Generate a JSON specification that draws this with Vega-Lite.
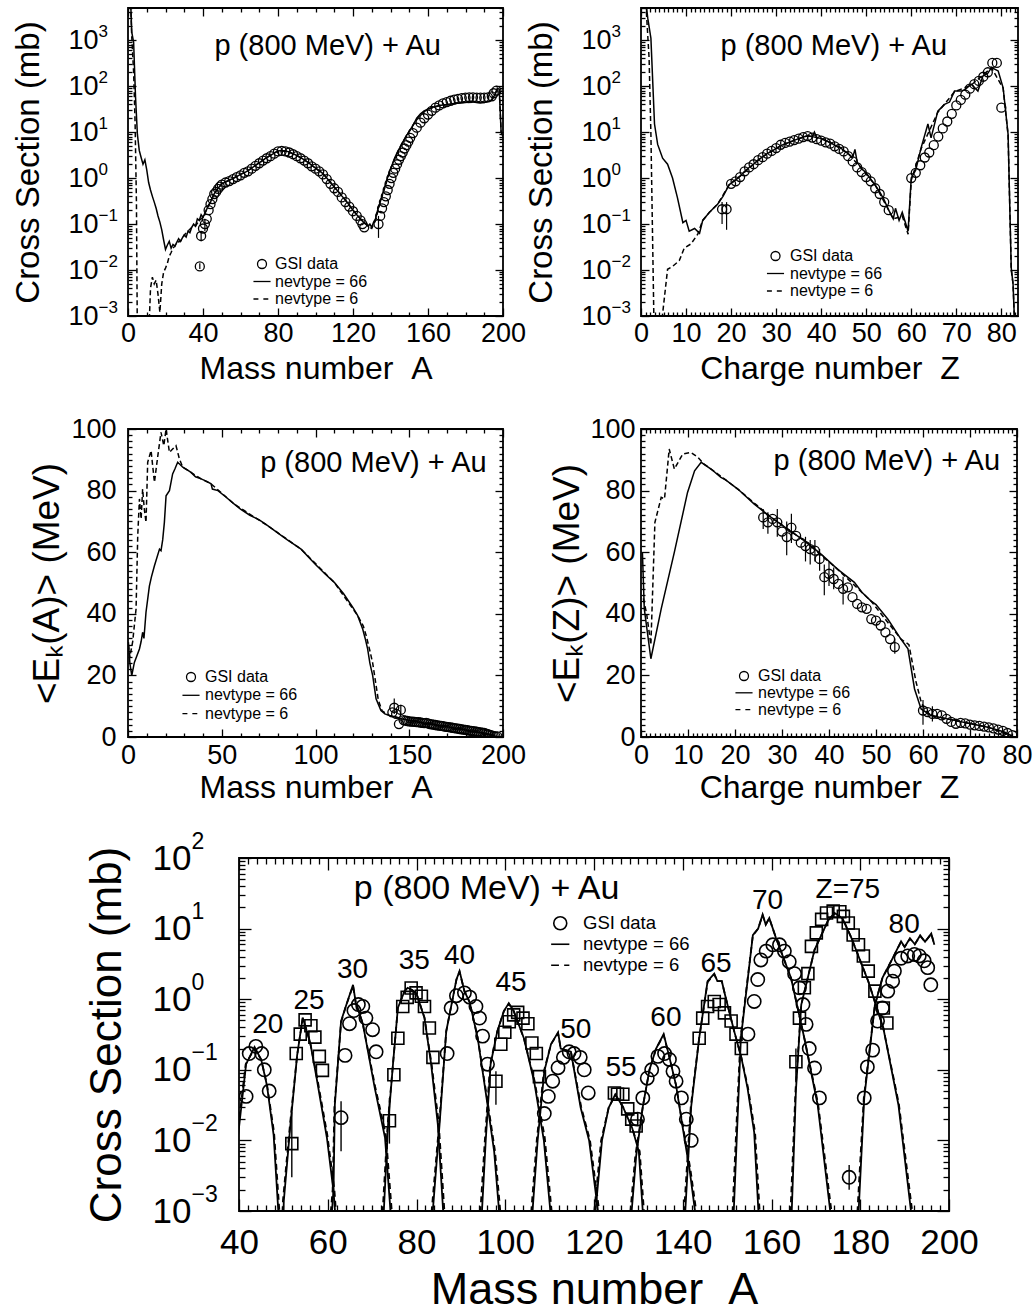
{
"$schema":"https://vega.github.io/schema/vega-lite/v6.json",
"padding":{"left":12,"top":6,"right":4,"bottom":0},
"config":{"view":{"stroke":"black","strokeWidth":1.8},"font":"Liberation Sans",
"axis":{"labelFont":"Liberation Sans","titleFont":"Liberation Sans","labelColor":"black","titleColor":"black","titleFontWeight":"normal","tickColor":"black","tickWidth":1.3,"grid":false,"domain":false,"labelFlush":false,"labelOverlap":false},
"legend":{"labelFont":"Liberation Sans","labelColor":"black"}},
"datasets":{
"pA":[
{"s":"66","x":1,"y":20000},{"s":"66","x":2,"y":1500},{"s":"66","x":3,"y":900},{"s":"66","x":4,"y":60},{"s":"66","x":5,"y":9},{"s":"66","x":6,"y":4},{"s":"66","x":7,"y":2.8},{"s":"66","x":8,"y":2},{"s":"66","x":9,"y":2.5},{"s":"66","x":10,"y":1.5},{"s":"66","x":11,"y":0.8},{"s":"66","x":12,"y":0.55},{"s":"66","x":13,"y":0.4},{"s":"66","x":14,"y":0.3},{"s":"66","x":15,"y":0.22},{"s":"66","x":16,"y":0.15},{"s":"66","x":17,"y":0.11},{"s":"66","x":18,"y":0.075},{"s":"66","x":19,"y":0.045},{"s":"66","x":20,"y":0.028},{"s":"66","x":21,"y":0.035},{"s":"66","x":22,"y":0.042},{"s":"66","x":23,"y":0.03},{"s":"66","x":24,"y":0.036},{"s":"66","x":25,"y":0.033},{"s":"66","x":26,"y":0.04},{"s":"66","x":27,"y":0.048},{"s":"66","x":28,"y":0.042},{"s":"66","x":29,"y":0.05},{"s":"66","x":30,"y":0.058},{"s":"66","x":31,"y":0.052},{"s":"66","x":32,"y":0.07},{"s":"66","x":33,"y":0.065},{"s":"66","x":34,"y":0.085},{"s":"66","x":35,"y":0.1},{"s":"66","x":36,"y":0.09},{"s":"66","x":37,"y":0.13},{"s":"66","x":38,"y":0.12},{"s":"66","x":39,"y":0.16},{"s":"66","x":40,"y":0.14},{"s":"66","x":41,"y":0.17},{"s":"66","x":42,"y":0.21},{"s":"66","x":43,"y":0.26},{"s":"66","x":44,"y":0.3},{"s":"66","x":45,"y":0.38},{"s":"66","x":46,"y":0.46},{"s":"66","x":47,"y":0.52},{"s":"66","x":48,"y":0.6},{"s":"66","x":49,"y":0.66},{"s":"66","x":50,"y":0.75},{"s":"66","x":52,"y":0.82},{"s":"66","x":54,"y":0.9},{"s":"66","x":56,"y":0.98},{"s":"66","x":58,"y":1.08},{"s":"66","x":60,"y":1.2},{"s":"66","x":62,"y":1.3},{"s":"66","x":64,"y":1.45},{"s":"66","x":66,"y":1.65},{"s":"66","x":68,"y":1.9},{"s":"66","x":70,"y":2.15},{"s":"66","x":72,"y":2.45},{"s":"66","x":74,"y":2.8},{"s":"66","x":76,"y":3.1},{"s":"66","x":78,"y":3.5},{"s":"66","x":80,"y":3.9},{"s":"66","x":82,"y":4},{"s":"66","x":84,"y":3.9},{"s":"66","x":86,"y":3.7},{"s":"66","x":88,"y":3.4},{"s":"66","x":90,"y":3.1},{"s":"66","x":92,"y":2.8},{"s":"66","x":94,"y":2.5},{"s":"66","x":96,"y":2.2},{"s":"66","x":98,"y":1.9},{"s":"66","x":100,"y":1.65},{"s":"66","x":102,"y":1.45},{"s":"66","x":104,"y":1.25},{"s":"66","x":106,"y":1},{"s":"66","x":108,"y":0.8},{"s":"66","x":110,"y":0.64},{"s":"66","x":112,"y":0.52},{"s":"66","x":114,"y":0.41},{"s":"66","x":116,"y":0.33},{"s":"66","x":118,"y":0.26},{"s":"66","x":120,"y":0.2},{"s":"66","x":122,"y":0.16},{"s":"66","x":124,"y":0.13},{"s":"66","x":126,"y":0.105},{"s":"66","x":127,"y":0.1},{"s":"66","x":128,"y":0.09},{"s":"66","x":129,"y":0.1},{"s":"66","x":130,"y":0.085},{"s":"66","x":131,"y":0.11},{"s":"66","x":132,"y":0.13},{"s":"66","x":133,"y":0.19},{"s":"66","x":134,"y":0.26},{"s":"66","x":135,"y":0.35},{"s":"66","x":136,"y":0.48},{"s":"66","x":137,"y":0.65},{"s":"66","x":138,"y":0.9},{"s":"66","x":139,"y":1.2},{"s":"66","x":140,"y":1.6},{"s":"66","x":141,"y":2},{"s":"66","x":142,"y":2.6},{"s":"66","x":143,"y":3.2},{"s":"66","x":144,"y":3.9},{"s":"66","x":145,"y":4.6},{"s":"66","x":146,"y":5.6},{"s":"66","x":147,"y":6.5},{"s":"66","x":148,"y":7.8},{"s":"66","x":149,"y":9},{"s":"66","x":150,"y":10.5},{"s":"66","x":152,"y":14},{"s":"66","x":154,"y":20},{"s":"66","x":156,"y":25},{"s":"66","x":158,"y":29},{"s":"66","x":160,"y":32},{"s":"66","x":162,"y":34},{"s":"66","x":164,"y":36},{"s":"66","x":166,"y":38},{"s":"66","x":168,"y":39},{"s":"66","x":170,"y":40},{"s":"66","x":172,"y":41},{"s":"66","x":174,"y":42},{"s":"66","x":176,"y":43},{"s":"66","x":178,"y":44},{"s":"66","x":180,"y":44},{"s":"66","x":182,"y":45},{"s":"66","x":184,"y":45},{"s":"66","x":186,"y":44},{"s":"66","x":188,"y":43},{"s":"66","x":190,"y":44},{"s":"66","x":192,"y":46},{"s":"66","x":194,"y":50},{"s":"66","x":195,"y":58},{"s":"66","x":196,"y":70},{"s":"66","x":197,"y":90},{"s":"66","x":198,"y":85},{"s":"66","x":199,"y":10},{"s":"66","x":200,"y":8},
{"s":"6","x":1,"y":20000},{"s":"6","x":2,"y":1200},{"s":"6","x":3,"y":200},{"s":"6","x":3.8,"y":15},{"s":"6","x":4.5,"y":0.3},{"s":"6","x":5,"y":0.0003},{"s":"6","x":11,"y":0.0003},{"s":"6","x":12,"y":0.004},{"s":"6","x":13,"y":0.007},{"s":"6","x":14,"y":0.005},{"s":"6","x":15,"y":0.006},{"s":"6","x":16,"y":0.003},{"s":"6","x":17,"y":0.0012},{"s":"6","x":18,"y":0.005},{"s":"6","x":19,"y":0.009},{"s":"6","x":20,"y":0.011},{"s":"6","x":21,"y":0.014},{"s":"6","x":22,"y":0.02},{"s":"6","x":23,"y":0.024},{"s":"6","x":24,"y":0.03},{"s":"6","x":25,"y":0.033},{"s":"6","x":26,"y":0.04},{"s":"6","x":28,"y":0.042},{"s":"6","x":30,"y":0.058},{"s":"6","x":32,"y":0.07},{"s":"6","x":34,"y":0.085},{"s":"6","x":36,"y":0.09},{"s":"6","x":38,"y":0.12},{"s":"6","x":40,"y":0.14},{"s":"6","x":42,"y":0.21},{"s":"6","x":44,"y":0.3},{"s":"6","x":46,"y":0.46},{"s":"6","x":48,"y":0.6},{"s":"6","x":50,"y":0.75},{"s":"6","x":55,"y":0.94},{"s":"6","x":60,"y":1.2},{"s":"6","x":65,"y":1.55},{"s":"6","x":70,"y":2.15},{"s":"6","x":75,"y":2.95},{"s":"6","x":80,"y":3.9},{"s":"6","x":85,"y":3.8},{"s":"6","x":90,"y":3.1},{"s":"6","x":95,"y":2.35},{"s":"6","x":100,"y":1.65},{"s":"6","x":105,"y":1.12},{"s":"6","x":110,"y":0.64},{"s":"6","x":115,"y":0.37},{"s":"6","x":120,"y":0.2},{"s":"6","x":125,"y":0.115},{"s":"6","x":128,"y":0.09},{"s":"6","x":130,"y":0.08},{"s":"6","x":132,"y":0.12},{"s":"6","x":134,"y":0.25},{"s":"6","x":136,"y":0.46},{"s":"6","x":138,"y":0.85},{"s":"6","x":140,"y":1.5},{"s":"6","x":142,"y":2.5},{"s":"6","x":144,"y":3.8},{"s":"6","x":146,"y":5.4},{"s":"6","x":148,"y":7.6},{"s":"6","x":150,"y":10.2},{"s":"6","x":154,"y":19.5},{"s":"6","x":158,"y":28.5},{"s":"6","x":162,"y":33.5},{"s":"6","x":166,"y":37.5},{"s":"6","x":170,"y":39.5},{"s":"6","x":175,"y":42.5},{"s":"6","x":180,"y":44},{"s":"6","x":185,"y":44.5},{"s":"6","x":190,"y":44},{"s":"6","x":194,"y":50},{"s":"6","x":196,"y":70},{"s":"6","x":197,"y":88},{"s":"6","x":198,"y":83},{"s":"6","x":199,"y":10},{"s":"6","x":200,"y":8},
{"s":"GSI","x":38.3,"y":0.012,"lo":0.0105,"hi":0.014},{"s":"GSI","x":39,"y":0.055,"lo":0.042,"hi":0.07},{"s":"GSI","x":40,"y":0.08},{"s":"GSI","x":41,"y":0.1,"lo":0.07,"hi":0.13},{"s":"GSI","x":42,"y":0.13},{"s":"GSI","x":43,"y":0.2},{"s":"GSI","x":44,"y":0.27},{"s":"GSI","x":45,"y":0.35},{"s":"GSI","x":46,"y":0.45},{"s":"GSI","x":47,"y":0.5},{"s":"GSI","x":48,"y":0.58},{"s":"GSI","x":49,"y":0.65},{"s":"GSI","x":50,"y":0.72},{"s":"GSI","x":52,"y":0.8},{"s":"GSI","x":54,"y":0.86},{"s":"GSI","x":56,"y":0.95},{"s":"GSI","x":58,"y":1.05},{"s":"GSI","x":60,"y":1.15},{"s":"GSI","x":62,"y":1.3},{"s":"GSI","x":64,"y":1.4},{"s":"GSI","x":66,"y":1.6},{"s":"GSI","x":68,"y":1.85},{"s":"GSI","x":70,"y":2.1},{"s":"GSI","x":72,"y":2.4},{"s":"GSI","x":74,"y":2.7},{"s":"GSI","x":76,"y":3},{"s":"GSI","x":78,"y":3.4},{"s":"GSI","x":80,"y":3.8},{"s":"GSI","x":82,"y":3.9},{"s":"GSI","x":84,"y":3.8},{"s":"GSI","x":86,"y":3.6},{"s":"GSI","x":88,"y":3.3},{"s":"GSI","x":90,"y":3},{"s":"GSI","x":92,"y":2.7},{"s":"GSI","x":94,"y":2.4},{"s":"GSI","x":96,"y":2.1},{"s":"GSI","x":98,"y":1.8},{"s":"GSI","x":100,"y":1.6},{"s":"GSI","x":102,"y":1.4},{"s":"GSI","x":104,"y":1.2},{"s":"GSI","x":106,"y":0.95},{"s":"GSI","x":108,"y":0.75},{"s":"GSI","x":110,"y":0.6},{"s":"GSI","x":112,"y":0.5},{"s":"GSI","x":114,"y":0.38},{"s":"GSI","x":116,"y":0.3},{"s":"GSI","x":118,"y":0.24},{"s":"GSI","x":120,"y":0.19},{"s":"GSI","x":122,"y":0.15},{"s":"GSI","x":124,"y":0.12},{"s":"GSI","x":125,"y":0.1},{"s":"GSI","x":126,"y":0.085},{"s":"GSI","x":133.6,"y":0.1,"lo":0.05,"hi":0.15},{"s":"GSI","x":134.5,"y":0.15},{"s":"GSI","x":135.5,"y":0.22},{"s":"GSI","x":136.5,"y":0.3},{"s":"GSI","x":137.5,"y":0.4},{"s":"GSI","x":138.5,"y":0.55},{"s":"GSI","x":139.5,"y":0.75},{"s":"GSI","x":140.5,"y":1},{"s":"GSI","x":141.5,"y":1.3},{"s":"GSI","x":142.5,"y":1.6},{"s":"GSI","x":143.5,"y":2},{"s":"GSI","x":144.5,"y":2.5},{"s":"GSI","x":145.5,"y":3},{"s":"GSI","x":146.5,"y":3.6},{"s":"GSI","x":147.5,"y":4.4},{"s":"GSI","x":148.5,"y":5.2},{"s":"GSI","x":149.5,"y":6.2},{"s":"GSI","x":150.5,"y":7.5},{"s":"GSI","x":152,"y":9.5},{"s":"GSI","x":154,"y":12.5},{"s":"GSI","x":156,"y":16},{"s":"GSI","x":158,"y":20},{"s":"GSI","x":160,"y":24},{"s":"GSI","x":162,"y":29},{"s":"GSI","x":164,"y":34},{"s":"GSI","x":166,"y":38},{"s":"GSI","x":168,"y":42},{"s":"GSI","x":170,"y":45},{"s":"GSI","x":172,"y":48},{"s":"GSI","x":174,"y":51},{"s":"GSI","x":176,"y":53},{"s":"GSI","x":178,"y":55},{"s":"GSI","x":180,"y":56},{"s":"GSI","x":182,"y":57},{"s":"GSI","x":184,"y":57},{"s":"GSI","x":186,"y":56},{"s":"GSI","x":188,"y":56},{"s":"GSI","x":190,"y":56},{"s":"GSI","x":192,"y":57},{"s":"GSI","x":194,"y":60},{"s":"GSI","x":195,"y":70},{"s":"GSI","x":196.5,"y":80}
],
"pB":[
{"s":"66","x":0.3,"y":20000},{"s":"66","x":1,"y":8000},{"s":"66","x":1.5,"y":3000},{"s":"66","x":2.2,"y":1100},{"s":"66","x":3,"y":15},{"s":"66","x":3.7,"y":5.4},{"s":"66","x":4.8,"y":2.7},{"s":"66","x":5.9,"y":2},{"s":"66","x":7,"y":1},{"s":"66","x":8.1,"y":0.37},{"s":"66","x":9.3,"y":0.107},{"s":"66","x":10,"y":0.12},{"s":"66","x":10.7,"y":0.07},{"s":"66","x":11.9,"y":0.08},{"s":"66","x":13,"y":0.063},{"s":"66","x":13.7,"y":0.12},{"s":"66","x":15.2,"y":0.18},{"s":"66","x":17,"y":0.27},{"s":"66","x":18.2,"y":0.4},{"s":"66","x":19.6,"y":0.72},{"s":"66","x":21,"y":0.9},{"s":"66","x":22,"y":1.1},{"s":"66","x":23,"y":1.4},{"s":"66","x":24,"y":1.7},{"s":"66","x":25,"y":2},{"s":"66","x":26,"y":2.5},{"s":"66","x":27,"y":2.9},{"s":"66","x":28,"y":3.4},{"s":"66","x":29,"y":3.8},{"s":"66","x":30,"y":4.4},{"s":"66","x":31,"y":5},{"s":"66","x":32,"y":5.6},{"s":"66","x":33,"y":6},{"s":"66","x":34,"y":6.6},{"s":"66","x":35,"y":7.2},{"s":"66","x":36,"y":7.8},{"s":"66","x":37,"y":8.3},{"s":"66","x":38,"y":8},{"s":"66","x":38.5,"y":10},{"s":"66","x":39,"y":7.5},{"s":"66","x":40,"y":7.3},{"s":"66","x":41,"y":6.5},{"s":"66","x":42,"y":6},{"s":"66","x":43,"y":5.2},{"s":"66","x":44,"y":4.8},{"s":"66","x":45,"y":4},{"s":"66","x":46,"y":3.4},{"s":"66","x":47,"y":2.8},{"s":"66","x":47.5,"y":4.2},{"s":"66","x":48,"y":2.2},{"s":"66","x":49,"y":1.6},{"s":"66","x":50,"y":1.3},{"s":"66","x":51,"y":0.95},{"s":"66","x":52,"y":0.7},{"s":"66","x":53,"y":0.5},{"s":"66","x":54,"y":0.33},{"s":"66","x":55,"y":0.2},{"s":"66","x":56,"y":0.13},{"s":"66","x":56.5,"y":0.22},{"s":"66","x":57.3,"y":0.12},{"s":"66","x":58,"y":0.18},{"s":"66","x":59.3,"y":0.07},{"s":"66","x":60,"y":1},{"s":"66","x":61,"y":1.5},{"s":"66","x":62.2,"y":4.6},{"s":"66","x":63.7,"y":15},{"s":"66","x":64.4,"y":7.5},{"s":"66","x":65.9,"y":28.6},{"s":"66","x":67.4,"y":40},{"s":"66","x":68.5,"y":45},{"s":"66","x":69.6,"y":78},{"s":"66","x":71.1,"y":78},{"s":"66","x":72,"y":85},{"s":"66","x":73.3,"y":110},{"s":"66","x":74.8,"y":78},{"s":"66","x":75.9,"y":165},{"s":"66","x":77,"y":190},{"s":"66","x":77.8,"y":253},{"s":"66","x":79.3,"y":214},{"s":"66","x":80.4,"y":92},{"s":"66","x":81.5,"y":8.9},{"s":"66","x":82.2,"y":0.011},{"s":"66","x":82.6,"y":0.005},{"s":"66","x":83,"y":0.0005},
{"s":"6","x":0.3,"y":20000},{"s":"6","x":1.2,"y":4000},{"s":"6","x":1.8,"y":400},{"s":"6","x":2.2,"y":9},{"s":"6","x":2.9,"y":0.0005},{"s":"6","x":4.4,"y":0.0005},{"s":"6","x":5.9,"y":0.0104},{"s":"6","x":7,"y":0.012},{"s":"6","x":8.5,"y":0.016},{"s":"6","x":9.6,"y":0.03},{"s":"6","x":11.1,"y":0.037},{"s":"6","x":12.6,"y":0.06},{"s":"6","x":13.7,"y":0.12},{"s":"6","x":15.2,"y":0.18},{"s":"6","x":17,"y":0.27},{"s":"6","x":19.6,"y":0.72},{"s":"6","x":22,"y":1.1},{"s":"6","x":25,"y":2},{"s":"6","x":28,"y":3.4},{"s":"6","x":31,"y":5},{"s":"6","x":34,"y":6.6},{"s":"6","x":37,"y":8.3},{"s":"6","x":40,"y":7.3},{"s":"6","x":43,"y":5.2},{"s":"6","x":46,"y":3.4},{"s":"6","x":49,"y":1.6},{"s":"6","x":52,"y":0.7},{"s":"6","x":55,"y":0.2},{"s":"6","x":56,"y":0.13},{"s":"6","x":57.3,"y":0.14},{"s":"6","x":58,"y":0.15},{"s":"6","x":59.3,"y":0.06},{"s":"6","x":60,"y":0.9},{"s":"6","x":62.2,"y":4.4},{"s":"6","x":65.9,"y":27},{"s":"6","x":69.6,"y":75},{"s":"6","x":73.3,"y":105},{"s":"6","x":77.8,"y":250},{"s":"6","x":80.4,"y":90},{"s":"6","x":81.5,"y":8.5},{"s":"6","x":82.2,"y":0.01},{"s":"6","x":82.6,"y":0.005},{"s":"6","x":83,"y":0.0005},
{"s":"GSI","x":18,"y":0.21,"lo":0.1,"hi":0.3},{"s":"GSI","x":19,"y":0.21,"lo":0.075,"hi":0.3},{"s":"GSI","x":20,"y":0.75},{"s":"GSI","x":21,"y":0.85},{"s":"GSI","x":22,"y":1.05},{"s":"GSI","x":23,"y":1.4},{"s":"GSI","x":24,"y":1.7},{"s":"GSI","x":25,"y":2},{"s":"GSI","x":26,"y":2.45},{"s":"GSI","x":27,"y":2.85},{"s":"GSI","x":28,"y":3.4},{"s":"GSI","x":29,"y":3.9},{"s":"GSI","x":30,"y":4.5},{"s":"GSI","x":31,"y":5.3},{"s":"GSI","x":32,"y":5.8},{"s":"GSI","x":33,"y":6.2},{"s":"GSI","x":34,"y":6.7},{"s":"GSI","x":35,"y":7.2},{"s":"GSI","x":36,"y":7.8},{"s":"GSI","x":37,"y":8.2},{"s":"GSI","x":38,"y":7.6},{"s":"GSI","x":39,"y":7},{"s":"GSI","x":40,"y":6.5},{"s":"GSI","x":41,"y":6},{"s":"GSI","x":42,"y":5.6},{"s":"GSI","x":43,"y":4.9},{"s":"GSI","x":44,"y":4.3},{"s":"GSI","x":45,"y":3.8},{"s":"GSI","x":46,"y":3},{"s":"GSI","x":47,"y":2.3},{"s":"GSI","x":48,"y":1.7},{"s":"GSI","x":49,"y":1.35},{"s":"GSI","x":50,"y":1.05},{"s":"GSI","x":51,"y":0.85},{"s":"GSI","x":52,"y":0.6},{"s":"GSI","x":53,"y":0.45},{"s":"GSI","x":54,"y":0.3},{"s":"GSI","x":55,"y":0.2},{"s":"GSI","x":60,"y":1},{"s":"GSI","x":61,"y":1.3},{"s":"GSI","x":62,"y":1.9},{"s":"GSI","x":63,"y":2.8},{"s":"GSI","x":64,"y":3.6},{"s":"GSI","x":65,"y":5.2},{"s":"GSI","x":66,"y":8},{"s":"GSI","x":67,"y":12},{"s":"GSI","x":68,"y":17},{"s":"GSI","x":69,"y":25},{"s":"GSI","x":70,"y":38},{"s":"GSI","x":71,"y":50},{"s":"GSI","x":72,"y":65},{"s":"GSI","x":73,"y":88},{"s":"GSI","x":74,"y":110},{"s":"GSI","x":75,"y":130},{"s":"GSI","x":76,"y":160},{"s":"GSI","x":77,"y":200},{"s":"GSI","x":78,"y":320},{"s":"GSI","x":79,"y":320},{"s":"GSI","x":80,"y":34}
],
"pC":[
{"s":"66","x":0.2,"y":30.8},{"s":"66","x":1,"y":24},{"s":"66","x":2,"y":19.9},{"s":"66","x":3.4,"y":24.2},{"s":"66","x":4.5,"y":26},{"s":"66","x":6.1,"y":28.6},{"s":"66","x":7,"y":31},{"s":"66","x":7.8,"y":34},{"s":"66","x":8.5,"y":32},{"s":"66","x":9.6,"y":40.5},{"s":"66","x":11.4,"y":49},{"s":"66","x":12.5,"y":52},{"s":"66","x":14.1,"y":55.6},{"s":"66","x":16.8,"y":61},{"s":"66","x":17.6,"y":60.5},{"s":"66","x":18.5,"y":64},{"s":"66","x":19.4,"y":69.7},{"s":"66","x":20.3,"y":78.3},{"s":"66","x":22.1,"y":80},{"s":"66","x":23.8,"y":85.4},{"s":"66","x":25,"y":87},{"s":"66","x":26.5,"y":89.2},{"s":"66","x":29.2,"y":87.6},{"s":"66","x":31,"y":87},{"s":"66","x":33.6,"y":85.9},{"s":"66","x":36,"y":84.5},{"s":"66","x":39,"y":83.8},{"s":"66","x":42,"y":83},{"s":"66","x":44.3,"y":82.2},{"s":"66","x":45,"y":80.5},{"s":"66","x":48,"y":80},{"s":"66","x":52,"y":78},{"s":"66","x":56.7,"y":75.6},{"s":"66","x":60,"y":74},{"s":"66","x":65,"y":72},{"s":"66","x":70,"y":70.5},{"s":"66","x":74.5,"y":68.6},{"s":"66","x":80,"y":66.2},{"s":"66","x":85,"y":64},{"s":"66","x":92.3,"y":61},{"s":"66","x":100,"y":56},{"s":"66","x":105,"y":53},{"s":"66","x":110,"y":50.2},{"s":"66","x":115,"y":46.5},{"s":"66","x":120,"y":42},{"s":"66","x":122.5,"y":39.4},{"s":"66","x":125.2,"y":35},{"s":"66","x":126.5,"y":32},{"s":"66","x":127.8,"y":28.6},{"s":"66","x":129,"y":24},{"s":"66","x":130.5,"y":19.9},{"s":"66","x":132.3,"y":12.4},{"s":"66","x":134.9,"y":8.6},{"s":"66","x":137,"y":7.5},{"s":"66","x":139.4,"y":7},{"s":"66","x":142,"y":6.6},{"s":"66","x":145,"y":6},{"s":"66","x":150,"y":5.4},{"s":"66","x":155,"y":4.8},{"s":"66","x":160,"y":4.3},{"s":"66","x":165,"y":3.8},{"s":"66","x":170,"y":3.3},{"s":"66","x":175,"y":2.8},{"s":"66","x":180,"y":2.3},{"s":"66","x":185,"y":1.7},{"s":"66","x":190,"y":1.2},{"s":"66","x":195,"y":0.4},{"s":"66","x":197,"y":0.1},
{"s":"6","x":0.2,"y":30},{"s":"6","x":1,"y":26},{"s":"6","x":2.5,"y":31},{"s":"6","x":4.3,"y":41.6},{"s":"6","x":5.2,"y":65.4},{"s":"6","x":6.1,"y":77.3},{"s":"6","x":7,"y":70.8},{"s":"6","x":7.8,"y":80.5},{"s":"6","x":8.7,"y":74},{"s":"6","x":9.6,"y":69.7},{"s":"6","x":10.5,"y":89.2},{"s":"6","x":12.3,"y":93},{"s":"6","x":14.1,"y":82.7},{"s":"6","x":15.9,"y":91.3},{"s":"6","x":17.6,"y":98.9},{"s":"6","x":19.1,"y":94.6},{"s":"6","x":20.3,"y":100},{"s":"6","x":22.1,"y":92.4},{"s":"6","x":23.8,"y":93.5},{"s":"6","x":25.6,"y":94.6},{"s":"6","x":27.4,"y":90.3},{"s":"6","x":29.2,"y":87.6},{"s":"6","x":33.6,"y":85.9},{"s":"6","x":39,"y":83.8},{"s":"6","x":44.3,"y":82.2},{"s":"6","x":56.7,"y":75.6},{"s":"6","x":74.5,"y":68.6},{"s":"6","x":92.3,"y":61},{"s":"6","x":110,"y":50.2},{"s":"6","x":122.5,"y":39.4},{"s":"6","x":125.5,"y":36},{"s":"6","x":127,"y":33},{"s":"6","x":129,"y":28},{"s":"6","x":130.5,"y":24},{"s":"6","x":132,"y":18},{"s":"6","x":133.5,"y":12},{"s":"6","x":135.5,"y":8.5},{"s":"6","x":139.4,"y":7},{"s":"6","x":150,"y":5.4},{"s":"6","x":170,"y":3.3},{"s":"6","x":190,"y":1.2},{"s":"6","x":197,"y":0.1},
{"s":"GSI","x":141,"y":8},{"s":"GSI","x":142,"y":9.5,"lo":7.5,"hi":12.5},{"s":"GSI","x":143,"y":7.5},{"s":"GSI","x":144.5,"y":4.2},{"s":"GSI","x":145.5,"y":8.8,"lo":7,"hi":10.5},{"s":"GSI","x":147,"y":5.5},{"s":"GSI","x":148,"y":5.3},{"s":"GSI","x":149,"y":5.2},{"s":"GSI","x":150,"y":5.1},{"s":"GSI","x":151,"y":5},{"s":"GSI","x":152,"y":5},{"s":"GSI","x":153,"y":4.9},{"s":"GSI","x":154,"y":4.8},{"s":"GSI","x":155,"y":4.8},{"s":"GSI","x":156,"y":4.7},{"s":"GSI","x":157,"y":4.6},{"s":"GSI","x":158,"y":4.5},{"s":"GSI","x":159,"y":4.6},{"s":"GSI","x":160,"y":4.4},{"s":"GSI","x":161,"y":4.2},{"s":"GSI","x":162,"y":4.1},{"s":"GSI","x":163,"y":4},{"s":"GSI","x":164,"y":3.9},{"s":"GSI","x":165,"y":3.8},{"s":"GSI","x":166,"y":3.7},{"s":"GSI","x":167,"y":3.6},{"s":"GSI","x":168,"y":3.5},{"s":"GSI","x":169,"y":3.4},{"s":"GSI","x":170,"y":3.3},{"s":"GSI","x":171,"y":3.2},{"s":"GSI","x":172,"y":3.1},{"s":"GSI","x":173,"y":3},{"s":"GSI","x":174,"y":2.9},{"s":"GSI","x":175,"y":2.8},{"s":"GSI","x":176,"y":2.7},{"s":"GSI","x":177,"y":2.6},{"s":"GSI","x":178,"y":2.5},{"s":"GSI","x":179,"y":2.4},{"s":"GSI","x":180,"y":2.3},{"s":"GSI","x":181,"y":2.2},{"s":"GSI","x":182,"y":2.1},{"s":"GSI","x":183,"y":2},{"s":"GSI","x":184,"y":1.9},{"s":"GSI","x":185,"y":1.8},{"s":"GSI","x":186,"y":1.7},{"s":"GSI","x":187,"y":1.6},{"s":"GSI","x":188,"y":1.5},{"s":"GSI","x":189,"y":1.4},{"s":"GSI","x":190,"y":1.3},{"s":"GSI","x":191,"y":1.1},{"s":"GSI","x":192,"y":0.9},{"s":"GSI","x":193,"y":0.7},{"s":"GSI","x":194,"y":0.5},{"s":"GSI","x":195,"y":0.3},{"s":"GSI","x":196,"y":0.2},{"s":"GSI","x":197,"y":0.2}
],
"pD":[
{"s":"66","x":0.3,"y":60},{"s":"66","x":0.7,"y":41.6},{"s":"66","x":2.1,"y":25.4},{"s":"66","x":4.3,"y":41.6},{"s":"66","x":7.1,"y":60},{"s":"66","x":9.9,"y":79.4},{"s":"66","x":11.4,"y":86.4},{"s":"66","x":12.8,"y":89.2},{"s":"66","x":14.9,"y":87},{"s":"66","x":17,"y":84.3},{"s":"66","x":18,"y":83.5},{"s":"66","x":20.6,"y":80.5},{"s":"66","x":24.1,"y":75.6},{"s":"66","x":27.7,"y":71.3},{"s":"66","x":31.2,"y":67.5},{"s":"66","x":34.8,"y":63.7},{"s":"66","x":38.3,"y":59.4},{"s":"66","x":41.8,"y":54.5},{"s":"66","x":45.4,"y":50.2},{"s":"66","x":47,"y":47},{"s":"66","x":48.9,"y":44.2},{"s":"66","x":50,"y":43},{"s":"66","x":52.5,"y":38.3},{"s":"66","x":55.3,"y":31.8},{"s":"66","x":56.8,"y":28.6},{"s":"66","x":58.2,"y":15.6},{"s":"66","x":59.6,"y":9.1},{"s":"66","x":61.7,"y":7},{"s":"66","x":66.7,"y":5.4},{"s":"66","x":70.2,"y":4.3},{"s":"66","x":73.8,"y":3.2},{"s":"66","x":77.3,"y":1.6},{"s":"66","x":79.1,"y":0.2},
{"s":"6","x":0.5,"y":45},{"s":"6","x":1.2,"y":40},{"s":"6","x":2.1,"y":30},{"s":"6","x":2.96,"y":69.7},{"s":"6","x":4.3,"y":77.8},{"s":"6","x":5,"y":77.3},{"s":"6","x":6,"y":93.5},{"s":"6","x":7.1,"y":87},{"s":"6","x":8.9,"y":91.9},{"s":"6","x":10.6,"y":92.4},{"s":"6","x":12.1,"y":90.8},{"s":"6","x":13.5,"y":88.5},{"s":"6","x":14.9,"y":87},{"s":"6","x":20.6,"y":80.5},{"s":"6","x":27.7,"y":71.3},{"s":"6","x":34.8,"y":63.7},{"s":"6","x":41.8,"y":54.5},{"s":"6","x":48.9,"y":44.2},{"s":"6","x":55.3,"y":31.8},{"s":"6","x":57,"y":30},{"s":"6","x":58.5,"y":18},{"s":"6","x":59.5,"y":12},{"s":"6","x":60.3,"y":9},{"s":"6","x":61.7,"y":7},{"s":"6","x":66.7,"y":5.4},{"s":"6","x":73.8,"y":3.2},{"s":"6","x":79.1,"y":0.2},
{"s":"GSI","x":26,"y":71.3,"lo":67.5,"hi":74},{"s":"GSI","x":27,"y":69.7,"lo":66,"hi":73},{"s":"GSI","x":28,"y":70.8},{"s":"GSI","x":29,"y":69.7,"lo":65,"hi":74},{"s":"GSI","x":30,"y":66.7},{"s":"GSI","x":31,"y":64.9,"lo":59,"hi":70},{"s":"GSI","x":32,"y":68,"lo":63,"hi":72.5},{"s":"GSI","x":33,"y":65.3},{"s":"GSI","x":34,"y":63.1},{"s":"GSI","x":35,"y":62,"lo":57,"hi":65},{"s":"GSI","x":36,"y":61,"lo":56,"hi":64},{"s":"GSI","x":37,"y":60.5,"lo":57,"hi":64},{"s":"GSI","x":38,"y":57.8,"lo":54,"hi":61},{"s":"GSI","x":39,"y":51.9,"lo":46,"hi":56},{"s":"GSI","x":40,"y":53,"lo":49,"hi":57},{"s":"GSI","x":41,"y":51.3,"lo":48,"hi":55},{"s":"GSI","x":42,"y":49.7},{"s":"GSI","x":43,"y":48.1,"lo":43,"hi":52},{"s":"GSI","x":44,"y":48.6},{"s":"GSI","x":45,"y":45.4},{"s":"GSI","x":46,"y":43.2},{"s":"GSI","x":47,"y":42.1},{"s":"GSI","x":48,"y":41.6},{"s":"GSI","x":49,"y":38.3},{"s":"GSI","x":50,"y":37.8},{"s":"GSI","x":51,"y":36.2},{"s":"GSI","x":52,"y":34},{"s":"GSI","x":53,"y":31.8},{"s":"GSI","x":54,"y":29.2,"lo":27,"hi":32},{"s":"GSI","x":60,"y":8.6,"lo":4,"hi":12},{"s":"GSI","x":61,"y":8.1},{"s":"GSI","x":62,"y":7.5,"lo":5,"hi":10},{"s":"GSI","x":63,"y":7.5},{"s":"GSI","x":64,"y":7},{"s":"GSI","x":65,"y":5.9},{"s":"GSI","x":66,"y":4.9},{"s":"GSI","x":67,"y":4.3},{"s":"GSI","x":68,"y":4.6},{"s":"GSI","x":69,"y":4.4},{"s":"GSI","x":70,"y":4},{"s":"GSI","x":71,"y":3.8},{"s":"GSI","x":72,"y":3.6},{"s":"GSI","x":73,"y":3.4},{"s":"GSI","x":74,"y":3.1},{"s":"GSI","x":75,"y":2.8},{"s":"GSI","x":76,"y":2.4},{"s":"GSI","x":77,"y":2},{"s":"GSI","x":78,"y":1.3},{"s":"GSI","x":79,"y":0.6}
],
"pE":[
{"s":"66","z":20,"x":39.5,"y":0.008},{"s":"66","z":20,"x":41.6,"y":0.12},{"s":"66","z":20,"x":43.5,"y":0.21},{"s":"66","z":20,"x":45,"y":0.14},{"s":"66","z":20,"x":46.3,"y":0.06},{"s":"66","z":20,"x":47.8,"y":0.012},{"s":"66","z":20,"x":48.9,"y":0.0009},{"s":"66","z":20,"x":49.5,"y":0.0003},
{"s":"66","z":25,"x":49.9,"y":0.0005},{"s":"66","z":25,"x":50.1,"y":0.0014},{"s":"66","z":25,"x":51.6,"y":0.017},{"s":"66","z":25,"x":53.1,"y":0.16},{"s":"66","z":25,"x":54.35,"y":0.55},{"s":"66","z":25,"x":55,"y":0.4},{"s":"66","z":25,"x":56,"y":0.25},{"s":"66","z":25,"x":57.5,"y":0.076},{"s":"66","z":25,"x":59.8,"y":0.011},{"s":"66","z":25,"x":61.3,"y":0.0019},{"s":"66","z":25,"x":62,"y":0.0005},
{"s":"66","z":30,"x":60.6,"y":0.0005},{"s":"66","z":30,"x":61.3,"y":0.002},{"s":"66","z":30,"x":61.6,"y":0.032},{"s":"66","z":30,"x":63,"y":0.49},{"s":"66","z":30,"x":64.1,"y":0.8},{"s":"66","z":30,"x":65.7,"y":1.6},{"s":"66","z":30,"x":66.3,"y":0.9},{"s":"66","z":30,"x":67.9,"y":0.45},{"s":"66","z":30,"x":70.6,"y":0.055},{"s":"66","z":30,"x":72.9,"y":0.011},{"s":"66","z":30,"x":74.5,"y":0.0005},
{"s":"66","z":35,"x":72.4,"y":0.0005},{"s":"66","z":35,"x":73.6,"y":0.017},{"s":"66","z":35,"x":74.7,"y":0.12},{"s":"66","z":35,"x":75.8,"y":0.75},{"s":"66","z":35,"x":77.3,"y":1.3},{"s":"66","z":35,"x":78,"y":1.45},{"s":"66","z":35,"x":79,"y":1.35},{"s":"66","z":35,"x":80,"y":1.2},{"s":"66","z":35,"x":81.8,"y":0.54},{"s":"66","z":35,"x":83.3,"y":0.12},{"s":"66","z":35,"x":84.8,"y":0.017},{"s":"66","z":35,"x":86.3,"y":0.0005},
{"s":"66","z":40,"x":83.3,"y":0.0005},{"s":"66","z":40,"x":85.2,"y":0.017},{"s":"66","z":40,"x":86.7,"y":0.35},{"s":"66","z":40,"x":89,"y":1.9},{"s":"66","z":40,"x":89.7,"y":2.5},{"s":"66","z":40,"x":90.8,"y":1.3},{"s":"66","z":40,"x":92,"y":0.9},{"s":"66","z":40,"x":93.8,"y":0.28},{"s":"66","z":40,"x":96,"y":0.032},{"s":"66","z":40,"x":97.5,"y":0.007},{"s":"66","z":40,"x":99,"y":0.0005},
{"s":"66","z":45,"x":94.5,"y":0.0005},{"s":"66","z":45,"x":95.6,"y":0.01},{"s":"66","z":45,"x":96.7,"y":0.12},{"s":"66","z":45,"x":98.2,"y":0.35},{"s":"66","z":45,"x":99.7,"y":0.68},{"s":"66","z":45,"x":100.8,"y":0.88},{"s":"66","z":45,"x":101.9,"y":0.68},{"s":"66","z":45,"x":104.2,"y":0.28},{"s":"66","z":45,"x":106.5,"y":0.069},{"s":"66","z":45,"x":108.7,"y":0.01},{"s":"66","z":45,"x":110.6,"y":0.0005},
{"s":"66","z":50,"x":105.8,"y":0.0005},{"s":"66","z":50,"x":107.3,"y":0.01},{"s":"66","z":50,"x":108.8,"y":0.095},{"s":"66","z":50,"x":110.3,"y":0.23},{"s":"66","z":50,"x":111.9,"y":0.34},{"s":"66","z":50,"x":112.5,"y":0.2},{"s":"66","z":50,"x":114.8,"y":0.18},{"s":"66","z":50,"x":117,"y":0.029},{"s":"66","z":50,"x":118.9,"y":0.01},{"s":"66","z":50,"x":121.5,"y":0.0005},
{"s":"66","z":55,"x":119.9,"y":0.0005},{"s":"66","z":55,"x":121.8,"y":0.01},{"s":"66","z":55,"x":123.3,"y":0.029},{"s":"66","z":55,"x":124.8,"y":0.045},{"s":"66","z":55,"x":126.5,"y":0.03},{"s":"66","z":55,"x":128.6,"y":0.015},{"s":"66","z":55,"x":130.1,"y":0.007},{"s":"66","z":55,"x":131.3,"y":0.0005},
{"s":"66","z":60,"x":128.1,"y":0.0005},{"s":"66","z":60,"x":129.5,"y":0.006},{"s":"66","z":60,"x":131,"y":0.03},{"s":"66","z":60,"x":132.5,"y":0.1},{"s":"66","z":60,"x":134,"y":0.2},{"s":"66","z":60,"x":135.7,"y":0.32},{"s":"66","z":60,"x":137,"y":0.15},{"s":"66","z":60,"x":138.5,"y":0.06},{"s":"66","z":60,"x":140,"y":0.015},{"s":"66","z":60,"x":141.5,"y":0.004},{"s":"66","z":60,"x":143.4,"y":0.0005},
{"s":"66","z":65,"x":140.3,"y":0.0005},{"s":"66","z":65,"x":141.9,"y":0.03},{"s":"66","z":65,"x":143.7,"y":0.28},{"s":"66","z":65,"x":145.6,"y":1.8},{"s":"66","z":65,"x":147.1,"y":2.3},{"s":"66","z":65,"x":147.8,"y":1.8},{"s":"66","z":65,"x":148.8,"y":1.8},{"s":"66","z":65,"x":149.7,"y":1.04},{"s":"66","z":65,"x":151.6,"y":0.35},{"s":"66","z":65,"x":153.2,"y":0.15},{"s":"66","z":65,"x":154.6,"y":0.055},{"s":"66","z":65,"x":156.1,"y":0.013},{"s":"66","z":65,"x":157.3,"y":0.0005},
{"s":"66","z":70,"x":151.3,"y":0.0005},{"s":"66","z":70,"x":153.1,"y":0.28},{"s":"66","z":70,"x":155.8,"y":8.1},{"s":"66","z":70,"x":157,"y":10},{"s":"66","z":70,"x":158,"y":15.8},{"s":"66","z":70,"x":158.7,"y":11.4},{"s":"66","z":70,"x":159.5,"y":14.1},{"s":"66","z":70,"x":161,"y":7.4},{"s":"66","z":70,"x":164.4,"y":2},{"s":"66","z":70,"x":167.4,"y":0.28},{"s":"66","z":70,"x":170.4,"y":0.032},{"s":"66","z":70,"x":173.8,"y":0.0005},
{"s":"66","z":75,"x":164.4,"y":0.0005},{"s":"66","z":75,"x":165.5,"y":0.05},{"s":"66","z":75,"x":166.7,"y":0.83},{"s":"66","z":75,"x":169.7,"y":5},{"s":"66","z":75,"x":172.7,"y":12.8},{"s":"66","z":75,"x":174.2,"y":16.6},{"s":"66","z":75,"x":176,"y":14},{"s":"66","z":75,"x":178,"y":7.4},{"s":"66","z":75,"x":181.8,"y":1.8},{"s":"66","z":75,"x":185.2,"y":0.39},{"s":"66","z":75,"x":188.6,"y":0.032},{"s":"66","z":75,"x":192,"y":0.0005},
{"s":"66","z":80,"x":179.4,"y":0.0005},{"s":"66","z":80,"x":180.9,"y":0.04},{"s":"66","z":80,"x":183.3,"y":0.83},{"s":"66","z":80,"x":185,"y":2},{"s":"66","z":80,"x":187,"y":3.5},{"s":"66","z":80,"x":189.2,"y":6.6},{"s":"66","z":80,"x":190,"y":5.5},{"s":"66","z":80,"x":191.2,"y":7.3},{"s":"66","z":80,"x":192.3,"y":6},{"s":"66","z":80,"x":193.5,"y":8},{"s":"66","z":80,"x":194.6,"y":6.5},{"s":"66","z":80,"x":196,"y":8.5},{"s":"66","z":80,"x":196.7,"y":5.9},
{"s":"6","z":20,"x":39.3,"y":0.008},{"s":"6","z":20,"x":41.5,"y":0.12},{"s":"6","z":20,"x":43.5,"y":0.2},{"s":"6","z":20,"x":45,"y":0.14},{"s":"6","z":20,"x":46.3,"y":0.062},{"s":"6","z":20,"x":47.9,"y":0.013},{"s":"6","z":20,"x":49.1,"y":0.001},{"s":"6","z":20,"x":49.7,"y":0.0003},
{"s":"6","z":25,"x":49.6,"y":0.0005},{"s":"6","z":25,"x":49.9,"y":0.0014},{"s":"6","z":25,"x":51.5,"y":0.017},{"s":"6","z":25,"x":53.1,"y":0.16},{"s":"6","z":25,"x":54.35,"y":0.53},{"s":"6","z":25,"x":55,"y":0.4},{"s":"6","z":25,"x":56,"y":0.25},{"s":"6","z":25,"x":57.6,"y":0.078},{"s":"6","z":25,"x":59.9,"y":0.012},{"s":"6","z":25,"x":61.5,"y":0.002},{"s":"6","z":25,"x":62.2,"y":0.0005},
{"s":"6","z":30,"x":60.3,"y":0.0005},{"s":"6","z":30,"x":61.1,"y":0.002},{"s":"6","z":30,"x":61.5,"y":0.03},{"s":"6","z":30,"x":63,"y":0.47},{"s":"6","z":30,"x":64.1,"y":0.8},{"s":"6","z":30,"x":65.7,"y":1.55},{"s":"6","z":30,"x":66.3,"y":0.9},{"s":"6","z":30,"x":67.9,"y":0.45},{"s":"6","z":30,"x":70.7,"y":0.057},{"s":"6","z":30,"x":73.1,"y":0.012},{"s":"6","z":30,"x":74.8,"y":0.0005},
{"s":"6","z":35,"x":72.1,"y":0.0005},{"s":"6","z":35,"x":73.5,"y":0.017},{"s":"6","z":35,"x":74.7,"y":0.12},{"s":"6","z":35,"x":75.8,"y":0.75},{"s":"6","z":35,"x":77.3,"y":1.3},{"s":"6","z":35,"x":78,"y":1.45},{"s":"6","z":35,"x":79,"y":1.35},{"s":"6","z":35,"x":80,"y":1.2},{"s":"6","z":35,"x":81.8,"y":0.55},{"s":"6","z":35,"x":83.4,"y":0.12},{"s":"6","z":35,"x":85,"y":0.018},{"s":"6","z":35,"x":86.6,"y":0.0005},
{"s":"6","z":40,"x":83,"y":0.0005},{"s":"6","z":40,"x":85.1,"y":0.017},{"s":"6","z":40,"x":86.7,"y":0.35},{"s":"6","z":40,"x":89,"y":1.9},{"s":"6","z":40,"x":89.7,"y":2.45},{"s":"6","z":40,"x":90.8,"y":1.3},{"s":"6","z":40,"x":92,"y":0.9},{"s":"6","z":40,"x":93.8,"y":0.28},{"s":"6","z":40,"x":96.1,"y":0.033},{"s":"6","z":40,"x":97.7,"y":0.007},{"s":"6","z":40,"x":99.3,"y":0.0005},
{"s":"6","z":45,"x":94.1,"y":0.0005},{"s":"6","z":45,"x":95.4,"y":0.01},{"s":"6","z":45,"x":96.6,"y":0.12},{"s":"6","z":45,"x":98.2,"y":0.35},{"s":"6","z":45,"x":99.7,"y":0.68},{"s":"6","z":45,"x":100.8,"y":0.86},{"s":"6","z":45,"x":101.9,"y":0.68},{"s":"6","z":45,"x":104.2,"y":0.28},{"s":"6","z":45,"x":106.6,"y":0.07},{"s":"6","z":45,"x":108.9,"y":0.011},{"s":"6","z":45,"x":110.9,"y":0.0005},
{"s":"6","z":50,"x":105.5,"y":0.0005},{"s":"6","z":50,"x":107.1,"y":0.01},{"s":"6","z":50,"x":108.7,"y":0.095},{"s":"6","z":50,"x":110.3,"y":0.23},{"s":"6","z":50,"x":111.9,"y":0.33},{"s":"6","z":50,"x":112.5,"y":0.2},{"s":"6","z":50,"x":114.8,"y":0.18},{"s":"6","z":50,"x":117.1,"y":0.03},{"s":"6","z":50,"x":119.1,"y":0.01},{"s":"6","z":50,"x":121.8,"y":0.0005},
{"s":"6","z":55,"x":119.6,"y":0.0005},{"s":"6","z":55,"x":121.6,"y":0.01},{"s":"6","z":55,"x":123.3,"y":0.029},{"s":"6","z":55,"x":124.8,"y":0.044},{"s":"6","z":55,"x":126.5,"y":0.03},{"s":"6","z":55,"x":128.6,"y":0.015},{"s":"6","z":55,"x":130.3,"y":0.007},{"s":"6","z":55,"x":131.6,"y":0.0005},
{"s":"6","z":60,"x":127.8,"y":0.0005},{"s":"6","z":60,"x":129.3,"y":0.006},{"s":"6","z":60,"x":131,"y":0.03},{"s":"6","z":60,"x":132.5,"y":0.1},{"s":"6","z":60,"x":134,"y":0.2},{"s":"6","z":60,"x":135.7,"y":0.31},{"s":"6","z":60,"x":137,"y":0.15},{"s":"6","z":60,"x":138.5,"y":0.06},{"s":"6","z":60,"x":140.1,"y":0.015},{"s":"6","z":60,"x":141.7,"y":0.004},{"s":"6","z":60,"x":143.7,"y":0.0005},
{"s":"6","z":65,"x":140,"y":0.0005},{"s":"6","z":65,"x":141.8,"y":0.03},{"s":"6","z":65,"x":143.7,"y":0.28},{"s":"6","z":65,"x":145.6,"y":1.75},{"s":"6","z":65,"x":147.1,"y":2.25},{"s":"6","z":65,"x":147.8,"y":1.8},{"s":"6","z":65,"x":148.8,"y":1.8},{"s":"6","z":65,"x":149.7,"y":1.04},{"s":"6","z":65,"x":151.6,"y":0.35},{"s":"6","z":65,"x":153.2,"y":0.15},{"s":"6","z":65,"x":154.7,"y":0.056},{"s":"6","z":65,"x":156.3,"y":0.013},{"s":"6","z":65,"x":157.6,"y":0.0005},
{"s":"6","z":70,"x":151,"y":0.0005},{"s":"6","z":70,"x":153,"y":0.28},{"s":"6","z":70,"x":155.8,"y":8},{"s":"6","z":70,"x":157,"y":10},{"s":"6","z":70,"x":158,"y":15.5},{"s":"6","z":70,"x":158.7,"y":11.4},{"s":"6","z":70,"x":159.5,"y":14},{"s":"6","z":70,"x":161,"y":7.4},{"s":"6","z":70,"x":164.4,"y":2},{"s":"6","z":70,"x":167.4,"y":0.28},{"s":"6","z":70,"x":170.5,"y":0.033},{"s":"6","z":70,"x":174.1,"y":0.0005},
{"s":"6","z":75,"x":164.1,"y":0.0005},{"s":"6","z":75,"x":165.4,"y":0.05},{"s":"6","z":75,"x":166.7,"y":0.83},{"s":"6","z":75,"x":169.7,"y":5},{"s":"6","z":75,"x":172.7,"y":12.8},{"s":"6","z":75,"x":174.2,"y":16.4},{"s":"6","z":75,"x":176,"y":14},{"s":"6","z":75,"x":178,"y":7.4},{"s":"6","z":75,"x":181.8,"y":1.8},{"s":"6","z":75,"x":185.2,"y":0.39},{"s":"6","z":75,"x":188.7,"y":0.033},{"s":"6","z":75,"x":192.3,"y":0.0005},
{"s":"6","z":80,"x":179.1,"y":0.0005},{"s":"6","z":80,"x":180.8,"y":0.04},{"s":"6","z":80,"x":183.3,"y":0.83},{"s":"6","z":80,"x":185,"y":2},{"s":"6","z":80,"x":187,"y":3.5},{"s":"6","z":80,"x":189.2,"y":6.5},{"s":"6","z":80,"x":190,"y":5.5},{"s":"6","z":80,"x":191.2,"y":7.2},{"s":"6","z":80,"x":192.3,"y":6},{"s":"6","z":80,"x":193.5,"y":7.9},{"s":"6","z":80,"x":194.6,"y":6.5},{"s":"6","z":80,"x":196,"y":8.4},{"s":"6","z":80,"x":196.7,"y":5.9},
{"s":"GSI","z":20,"x":41.6,"y":0.042},{"s":"GSI","z":20,"x":42.3,"y":0.17},{"s":"GSI","z":20,"x":43.8,"y":0.215},{"s":"GSI","z":20,"x":45.1,"y":0.17},{"s":"GSI","z":20,"x":45.7,"y":0.1},{"s":"GSI","z":20,"x":46.8,"y":0.05},
{"s":"GSI","z":25,"x":51.9,"y":0.009,"lo":0.003,"hi":0.025},{"s":"GSI","z":25,"x":52.9,"y":0.17},{"s":"GSI","z":25,"x":53.8,"y":0.32},{"s":"GSI","z":25,"x":54.9,"y":0.51},{"s":"GSI","z":25,"x":56.2,"y":0.42},{"s":"GSI","z":25,"x":57.1,"y":0.29},{"s":"GSI","z":25,"x":58.1,"y":0.155},{"s":"GSI","z":25,"x":58.8,"y":0.098},
{"s":"GSI","z":30,"x":63,"y":0.021,"lo":0.007,"hi":0.036},{"s":"GSI","z":30,"x":63.9,"y":0.16},{"s":"GSI","z":30,"x":64.9,"y":0.45},{"s":"GSI","z":30,"x":65.9,"y":0.69},{"s":"GSI","z":30,"x":66.9,"y":0.84},{"s":"GSI","z":30,"x":67.9,"y":0.79},{"s":"GSI","z":30,"x":68.6,"y":0.54},{"s":"GSI","z":30,"x":70.1,"y":0.37},{"s":"GSI","z":30,"x":70.9,"y":0.18},
{"s":"GSI","z":35,"x":73.9,"y":0.019,"lo":0.009,"hi":0.04},{"s":"GSI","z":35,"x":74.9,"y":0.085},{"s":"GSI","z":35,"x":75.8,"y":0.28},{"s":"GSI","z":35,"x":76.9,"y":0.79},{"s":"GSI","z":35,"x":77.9,"y":1.06},{"s":"GSI","z":35,"x":78.8,"y":1.44},{"s":"GSI","z":35,"x":79.9,"y":1.23},{"s":"GSI","z":35,"x":81.1,"y":1.1},{"s":"GSI","z":35,"x":81.8,"y":0.79},{"s":"GSI","z":35,"x":82.9,"y":0.39},{"s":"GSI","z":35,"x":83.7,"y":0.15},
{"s":"GSI","z":40,"x":86.9,"y":0.17},{"s":"GSI","z":40,"x":87.8,"y":0.75},{"s":"GSI","z":40,"x":89,"y":1.12},{"s":"GSI","z":40,"x":90.8,"y":1.23},{"s":"GSI","z":40,"x":92,"y":1.07},{"s":"GSI","z":40,"x":93.4,"y":0.79},{"s":"GSI","z":40,"x":94.2,"y":0.54},{"s":"GSI","z":40,"x":94.9,"y":0.3},{"s":"GSI","z":40,"x":96,"y":0.12},
{"s":"GSI","z":45,"x":97.9,"y":0.069,"lo":0.032,"hi":0.095},{"s":"GSI","z":45,"x":99,"y":0.23},{"s":"GSI","z":45,"x":99.9,"y":0.34},{"s":"GSI","z":45,"x":100.9,"y":0.48},{"s":"GSI","z":45,"x":101.9,"y":0.6},{"s":"GSI","z":45,"x":102.8,"y":0.65},{"s":"GSI","z":45,"x":104,"y":0.54},{"s":"GSI","z":45,"x":105.1,"y":0.45},{"s":"GSI","z":45,"x":106,"y":0.24},{"s":"GSI","z":45,"x":107,"y":0.17},{"s":"GSI","z":45,"x":107.7,"y":0.08},
{"s":"GSI","z":50,"x":108.8,"y":0.024},{"s":"GSI","z":50,"x":109.7,"y":0.042},{"s":"GSI","z":50,"x":110.7,"y":0.069},{"s":"GSI","z":50,"x":111.9,"y":0.107},{"s":"GSI","z":50,"x":113.1,"y":0.15},{"s":"GSI","z":50,"x":114.4,"y":0.18},{"s":"GSI","z":50,"x":115.5,"y":0.17},{"s":"GSI","z":50,"x":116.9,"y":0.15},{"s":"GSI","z":50,"x":117.8,"y":0.1},{"s":"GSI","z":50,"x":118.7,"y":0.047},
{"s":"GSI","z":55,"x":124.6,"y":0.047},{"s":"GSI","z":55,"x":125.3,"y":0.045},{"s":"GSI","z":55,"x":126.5,"y":0.045},{"s":"GSI","z":55,"x":127.6,"y":0.028},{"s":"GSI","z":55,"x":128.5,"y":0.02},{"s":"GSI","z":55,"x":129.5,"y":0.016},
{"s":"GSI","z":60,"x":129.8,"y":0.02},{"s":"GSI","z":60,"x":131,"y":0.04},{"s":"GSI","z":60,"x":132,"y":0.076},{"s":"GSI","z":60,"x":133,"y":0.1},{"s":"GSI","z":60,"x":134.4,"y":0.155},{"s":"GSI","z":60,"x":135.9,"y":0.17},{"s":"GSI","z":60,"x":137,"y":0.14},{"s":"GSI","z":60,"x":137.8,"y":0.095},{"s":"GSI","z":60,"x":138.5,"y":0.069},{"s":"GSI","z":60,"x":139.7,"y":0.04},{"s":"GSI","z":60,"x":140.8,"y":0.02},{"s":"GSI","z":60,"x":141.9,"y":0.01},
{"s":"GSI","z":65,"x":143.7,"y":0.28},{"s":"GSI","z":65,"x":144.5,"y":0.54},{"s":"GSI","z":65,"x":145.6,"y":0.79},{"s":"GSI","z":65,"x":147.1,"y":0.93},{"s":"GSI","z":65,"x":148.2,"y":0.84},{"s":"GSI","z":65,"x":149.4,"y":0.64},{"s":"GSI","z":65,"x":150.9,"y":0.49},{"s":"GSI","z":65,"x":152,"y":0.32},{"s":"GSI","z":65,"x":153.2,"y":0.2},
{"s":"GSI","z":70,"x":154.7,"y":0.32},{"s":"GSI","z":70,"x":156.1,"y":0.93},{"s":"GSI","z":70,"x":156.9,"y":1.9},{"s":"GSI","z":70,"x":157.6,"y":3.6},{"s":"GSI","z":70,"x":158.8,"y":4.8},{"s":"GSI","z":70,"x":160.3,"y":5.9},{"s":"GSI","z":70,"x":161.8,"y":5.9},{"s":"GSI","z":70,"x":162.9,"y":4.8},{"s":"GSI","z":70,"x":164,"y":3.4},{"s":"GSI","z":70,"x":165.2,"y":2.3},{"s":"GSI","z":70,"x":166.3,"y":1.45},{"s":"GSI","z":70,"x":167.1,"y":0.84},{"s":"GSI","z":70,"x":167.8,"y":0.44},{"s":"GSI","z":70,"x":168.5,"y":0.2},{"s":"GSI","z":70,"x":169.7,"y":0.106},{"s":"GSI","z":70,"x":170.8,"y":0.04},
{"s":"GSI","z":75,"x":165.5,"y":0.13,"lo":0.07,"hi":0.2},{"s":"GSI","z":75,"x":166.3,"y":0.54},{"s":"GSI","z":75,"x":167.4,"y":1.45},{"s":"GSI","z":75,"x":168.2,"y":2.3},{"s":"GSI","z":75,"x":169,"y":5.6},{"s":"GSI","z":75,"x":170.1,"y":8.7},{"s":"GSI","z":75,"x":171.3,"y":13.5},{"s":"GSI","z":75,"x":172.4,"y":16.6},{"s":"GSI","z":75,"x":173.9,"y":17.7},{"s":"GSI","z":75,"x":175.4,"y":17.3},{"s":"GSI","z":75,"x":176.2,"y":14.9},{"s":"GSI","z":75,"x":177.3,"y":12},{"s":"GSI","z":75,"x":178.4,"y":8.1},{"s":"GSI","z":75,"x":179.6,"y":5.9},{"s":"GSI","z":75,"x":180.7,"y":4.1},{"s":"GSI","z":75,"x":181.8,"y":2.5},{"s":"GSI","z":75,"x":183.3,"y":1.3},{"s":"GSI","z":75,"x":185.2,"y":0.75},{"s":"GSI","z":75,"x":186,"y":0.46},
{"s":"GSI","z":80,"x":177.5,"y":0.003,"lo":0.002,"hi":0.0045},{"s":"GSI","z":80,"x":180.9,"y":0.04},{"s":"GSI","z":80,"x":181.6,"y":0.11},{"s":"GSI","z":80,"x":182.8,"y":0.19},{"s":"GSI","z":80,"x":183.9,"y":0.49},{"s":"GSI","z":80,"x":185,"y":0.75},{"s":"GSI","z":80,"x":186.2,"y":1.3},{"s":"GSI","z":80,"x":187.3,"y":1.8},{"s":"GSI","z":80,"x":187.7,"y":2.5},{"s":"GSI","z":80,"x":189.2,"y":3.8},{"s":"GSI","z":80,"x":190.7,"y":4.1},{"s":"GSI","z":80,"x":192.2,"y":4.3},{"s":"GSI","z":80,"x":193.3,"y":4.1},{"s":"GSI","z":80,"x":194.4,"y":3.5},{"s":"GSI","z":80,"x":195.2,"y":2.8},{"s":"GSI","z":80,"x":195.9,"y":1.6}
],
"zlab":[{"x":46.5,"y":0.43,"t":"20"},{"x":55.8,"y":0.93,"t":"25"},{"x":65.6,"y":2.6,"t":"30"},{"x":79.5,"y":3.5,"t":"35"},{"x":89.7,"y":4.1,"t":"40"},{"x":101.3,"y":1.7,"t":"45"},{"x":115.9,"y":0.37,"t":"50"},{"x":126.1,"y":0.107,"t":"55"},{"x":136.2,"y":0.54,"t":"60"},{"x":147.5,"y":3.2,"t":"65"},{"x":159.1,"y":24.5,"t":"70"},{"x":177.2,"y":35.7,"t":"Z=75"},{"x":189.9,"y":11.4,"t":"80"}]
},
"resolve":{"scale":{"shape":"independent"},"legend":{"shape":"independent"}},
"spacing":24,
"vconcat":[
{"resolve":{"scale":{"shape":"independent"},"legend":{"shape":"independent"}},
"spacing":29,
"vconcat":[
{"hconcat":[
{"width":375,"height":308,"data":{"name":"pA"},
"resolve":{"axis":{"x":"independent","y":"independent"}},
"layer":[
{"transform":[{"filter":"datum.s==='66'"}],"mark":{"type":"line","color":"black","strokeWidth":1.5,"clip":true},
"encoding":{"x":{"field":"x","type":"quantitative","scale":{"domain":[0,200],"nice":false,"zero":false},"axis":{"orient":"bottom","values":[0,40,80,120,160,200],"ticks":false,"labelFontSize":27,"labelPadding":4,"title":"Mass number \u00a0A","titleFontSize":32,"titlePadding":7}},
"y":{"field":"y","type":"quantitative","scale":{"type":"log","domain":[0.001,5000],"nice":false},"axis":{"orient":"left","values":[0.001,0.01,0.1,1,10,100,1000],"labelExpr":"'10'","ticks":false,"labelFontSize":27,"labelPadding":30,"title":"Cross Section (mb)","titleFontSize":33,"titlePadding":22}}}},
{"transform":[{"filter":"datum.s==='6'"}],"mark":{"type":"line","color":"black","strokeWidth":1.5,"strokeDash":[5,3],"clip":true},
"encoding":{"x":{"field":"x","type":"quantitative","scale":{"domain":[0,200],"nice":false,"zero":false},"axis":{"orient":"bottom","values":[0,10,20,30,40,50,60,70,80,90,100,110,120,130,140,150,160,170,180,190,200],"labels":false,"title":null,"tickSize":{"condition":{"test":"datum.value % 40 === 0","value":-8},"value":-4}}},
"y":{"field":"y","type":"quantitative","scale":{"type":"log","domain":[0.001,5000],"nice":false},"axis":{"orient":"left","values":[0.001,0.01,0.1,1,10,100,1000],"labelExpr":"['−3','−2','−1','0','1','2','3'][round(log(datum.value)/LN10)+3]","labelAlign":"left","ticks":false,"labelFontSize":17,"labelPadding":30,"labelOffset":-9,"title":null}}}},
{"transform":[{"filter":"datum.s==='GSI'"}],"mark":{"type":"point","filled":false,"color":"black","strokeWidth":1.3,"size":81,"opacity":1,"clip":true},
"encoding":{"x":{"field":"x","type":"quantitative","scale":{"domain":[0,200],"nice":false,"zero":false},"axis":{"orient":"top","values":[0,10,20,30,40,50,60,70,80,90,100,110,120,130,140,150,160,170,180,190,200],"labels":false,"title":null,"tickSize":{"condition":{"test":"datum.value % 40 === 0","value":-8},"value":-4}}},
"y":{"field":"y","type":"quantitative","scale":{"type":"log","domain":[0.001,5000],"nice":false},"axis":{"orient":"left","values":[0.001,0.002,0.003,0.004,0.005,0.006,0.007,0.008,0.009,0.01,0.02,0.03,0.04,0.05,0.06,0.07,0.08,0.09,0.1,0.2,0.3,0.4,0.5,0.6,0.7,0.8,0.9,1,2,3,4,5,6,7,8,9,10,20,30,40,50,60,70,80,90,100,200,300,400,500,600,700,800,900,1000,2000,3000,4000,5000],"labels":false,"title":null,"tickSize":{"condition":{"test":"abs(log(datum.value)/LN10-round(log(datum.value)/LN10))<0.01","value":-8},"value":-4}}},
"shape":{"datum":"GSI data","scale":{"domain":["GSI data","nevtype = 66","nevtype = 6"],"range":["circle","M-1.9,0H1.9","M-1.9,0H-0.8M0.3,0H1.4"]},"legend":{"orient":"none","legendX":126,"legendY":248,"title":null,"padding":0,"labelFontSize":16,"labelOffset":5,"rowPadding":1.5,"symbolSize":81,"symbolStrokeColor":"black","symbolFillColor":"transparent","symbolStrokeWidth":1.3,"symbolOpacity":1}}}},
{"transform":[{"filter":"isValid(datum.lo)"}],"mark":{"type":"rule","color":"black","strokeWidth":1.2,"clip":true},
"encoding":{"x":{"field":"x","type":"quantitative","scale":{"domain":[0,200],"nice":false,"zero":false},"axis":null},
"y":{"field":"lo","type":"quantitative","scale":{"type":"log","domain":[0.001,5000],"nice":false},"axis":{"orient":"right","values":[0.001,0.002,0.003,0.004,0.005,0.006,0.007,0.008,0.009,0.01,0.02,0.03,0.04,0.05,0.06,0.07,0.08,0.09,0.1,0.2,0.3,0.4,0.5,0.6,0.7,0.8,0.9,1,2,3,4,5,6,7,8,9,10,20,30,40,50,60,70,80,90,100,200,300,400,500,600,700,800,900,1000,2000,3000,4000,5000],"labels":false,"title":null,"tickSize":{"condition":{"test":"abs(log(datum.value)/LN10-round(log(datum.value)/LN10))<0.01","value":-8},"value":-4}}},
"y2":{"field":"hi"}}},
{"data":{"values":[{"x":106.5,"y":740,"t":"p (800 MeV) + Au"}]},"mark":{"type":"text","font":"Liberation Sans","fontSize":29,"align":"center","baseline":"middle","color":"black"},
"encoding":{"x":{"field":"x","type":"quantitative","scale":{"domain":[0,200],"nice":false,"zero":false},"axis":null},"y":{"field":"y","type":"quantitative","scale":{"type":"log","domain":[0.001,5000],"nice":false},"axis":null},"text":{"field":"t"}}}
]},
{"width":377,"height":308,"data":{"name":"pB"},
"resolve":{"axis":{"x":"independent","y":"independent"}},
"layer":[
{"transform":[{"filter":"datum.s==='66'"}],"mark":{"type":"line","color":"black","strokeWidth":1.5,"clip":true},
"encoding":{"x":{"field":"x","type":"quantitative","scale":{"domain":[0,83.7],"nice":false,"zero":false},"axis":{"orient":"bottom","values":[0,10,20,30,40,50,60,70,80],"ticks":false,"labelFontSize":27,"labelPadding":4,"title":"Charge number \u00a0Z","titleFontSize":32,"titlePadding":7}},
"y":{"field":"y","type":"quantitative","scale":{"type":"log","domain":[0.001,5000],"nice":false},"axis":{"orient":"left","values":[0.001,0.01,0.1,1,10,100,1000],"labelExpr":"'10'","ticks":false,"labelFontSize":27,"labelPadding":30,"title":"Cross Section (mb)","titleFontSize":33,"titlePadding":22}}}},
{"transform":[{"filter":"datum.s==='6'"}],"mark":{"type":"line","color":"black","strokeWidth":1.5,"strokeDash":[5,3],"clip":true},
"encoding":{"x":{"field":"x","type":"quantitative","scale":{"domain":[0,83.7],"nice":false,"zero":false},"axis":{"orient":"bottom","values":[0,1,2,3,4,5,6,7,8,9,10,11,12,13,14,15,16,17,18,19,20,21,22,23,24,25,26,27,28,29,30,31,32,33,34,35,36,37,38,39,40,41,42,43,44,45,46,47,48,49,50,51,52,53,54,55,56,57,58,59,60,61,62,63,64,65,66,67,68,69,70,71,72,73,74,75,76,77,78,79,80,81,82,83],"labels":false,"title":null,"tickSize":{"condition":{"test":"datum.value % 10 === 0","value":-8},"value":-4}}},
"y":{"field":"y","type":"quantitative","scale":{"type":"log","domain":[0.001,5000],"nice":false},"axis":{"orient":"left","values":[0.001,0.01,0.1,1,10,100,1000],"labelExpr":"['−3','−2','−1','0','1','2','3'][round(log(datum.value)/LN10)+3]","labelAlign":"left","ticks":false,"labelFontSize":17,"labelPadding":30,"labelOffset":-9,"title":null}}}},
{"transform":[{"filter":"datum.s==='GSI'"}],"mark":{"type":"point","filled":false,"color":"black","strokeWidth":1.3,"size":81,"opacity":1,"clip":true},
"encoding":{"x":{"field":"x","type":"quantitative","scale":{"domain":[0,83.7],"nice":false,"zero":false},"axis":{"orient":"top","values":[0,1,2,3,4,5,6,7,8,9,10,11,12,13,14,15,16,17,18,19,20,21,22,23,24,25,26,27,28,29,30,31,32,33,34,35,36,37,38,39,40,41,42,43,44,45,46,47,48,49,50,51,52,53,54,55,56,57,58,59,60,61,62,63,64,65,66,67,68,69,70,71,72,73,74,75,76,77,78,79,80,81,82,83],"labels":false,"title":null,"tickSize":{"condition":{"test":"datum.value % 10 === 0","value":-8},"value":-4}}},
"y":{"field":"y","type":"quantitative","scale":{"type":"log","domain":[0.001,5000],"nice":false},"axis":{"orient":"left","values":[0.001,0.002,0.003,0.004,0.005,0.006,0.007,0.008,0.009,0.01,0.02,0.03,0.04,0.05,0.06,0.07,0.08,0.09,0.1,0.2,0.3,0.4,0.5,0.6,0.7,0.8,0.9,1,2,3,4,5,6,7,8,9,10,20,30,40,50,60,70,80,90,100,200,300,400,500,600,700,800,900,1000,2000,3000,4000,5000],"labels":false,"title":null,"tickSize":{"condition":{"test":"abs(log(datum.value)/LN10-round(log(datum.value)/LN10))<0.01","value":-8},"value":-4}}},
"shape":{"datum":"GSI data","scale":{"domain":["GSI data","nevtype = 66","nevtype = 6"],"range":["circle","M-1.9,0H1.9","M-1.9,0H-0.8M0.3,0H1.4"]},"legend":{"orient":"none","legendX":126.5,"legendY":240,"title":null,"padding":0,"labelFontSize":16,"labelOffset":6.5,"rowPadding":1.5,"symbolSize":81,"symbolStrokeColor":"black","symbolFillColor":"transparent","symbolStrokeWidth":1.3,"symbolOpacity":1}}}},
{"transform":[{"filter":"isValid(datum.lo)"}],"mark":{"type":"rule","color":"black","strokeWidth":1.2,"clip":true},
"encoding":{"x":{"field":"x","type":"quantitative","scale":{"domain":[0,83.7],"nice":false,"zero":false},"axis":null},
"y":{"field":"lo","type":"quantitative","scale":{"type":"log","domain":[0.001,5000],"nice":false},"axis":{"orient":"right","values":[0.001,0.002,0.003,0.004,0.005,0.006,0.007,0.008,0.009,0.01,0.02,0.03,0.04,0.05,0.06,0.07,0.08,0.09,0.1,0.2,0.3,0.4,0.5,0.6,0.7,0.8,0.9,1,2,3,4,5,6,7,8,9,10,20,30,40,50,60,70,80,90,100,200,300,400,500,600,700,800,900,1000,2000,3000,4000,5000],"labels":false,"title":null,"tickSize":{"condition":{"test":"abs(log(datum.value)/LN10-round(log(datum.value)/LN10))<0.01","value":-8},"value":-4}}},
"y2":{"field":"hi"}}},
{"data":{"values":[{"x":42.8,"y":740,"t":"p (800 MeV) + Au"}]},"mark":{"type":"text","font":"Liberation Sans","fontSize":29,"align":"center","baseline":"middle","color":"black"},
"encoding":{"x":{"field":"x","type":"quantitative","scale":{"domain":[0,83.7],"nice":false,"zero":false},"axis":null},"y":{"field":"y","type":"quantitative","scale":{"type":"log","domain":[0.001,5000],"nice":false},"axis":null},"text":{"field":"t"}}}
]}
],"spacing":138,"bounds":"flush","resolve":{"scale":{"shape":"independent"},"legend":{"shape":"independent"}}},
{"hconcat":[
{"width":375,"height":308,"data":{"name":"pC"},
"resolve":{"axis":{"x":"independent","y":"independent"}},
"layer":[
{"transform":[{"filter":"datum.s==='66'"}],"mark":{"type":"line","color":"black","strokeWidth":1.5,"clip":true},
"encoding":{"x":{"field":"x","type":"quantitative","scale":{"domain":[0,200],"nice":false,"zero":false},"axis":{"orient":"bottom","values":[0,50,100,150,200],"ticks":false,"labelFontSize":27,"labelPadding":5.5,"title":"Mass number \u00a0A","titleFontSize":32,"titlePadding":4}},
"y":{"field":"y","type":"quantitative","scale":{"domain":[0,100],"nice":false,"zero":false},"axis":{"orient":"left","values":[0,20,40,60,80,100],"ticks":false,"labelFontSize":27,"labelPadding":12,"title":"<Eₖ(A)> (MeV)","titleFontSize":37,"titlePadding":4}}}},
{"transform":[{"filter":"datum.s==='6'"}],"mark":{"type":"line","color":"black","strokeWidth":1.5,"strokeDash":[5,3],"clip":true},
"encoding":{"x":{"field":"x","type":"quantitative","scale":{"domain":[0,200],"nice":false,"zero":false},"axis":{"orient":"bottom","values":[0,10,20,30,40,50,60,70,80,90,100,110,120,130,140,150,160,170,180,190,200],"labels":false,"title":null,"tickSize":{"condition":{"test":"datum.value % 50 === 0","value":-8},"value":-4}}},
"y":{"field":"y","type":"quantitative","scale":{"domain":[0,100],"nice":false,"zero":false},"axis":{"orient":"left","values":[0,2,4,6,8,10,12,14,16,18,20,22,24,26,28,30,32,34,36,38,40,42,44,46,48,50,52,54,56,58,60,62,64,66,68,70,72,74,76,78,80,82,84,86,88,90,92,94,96,98,100],"labels":false,"title":null,"tickSize":{"condition":{"test":"datum.value % 20 === 0","value":-8},"value":-4}}}}},
{"transform":[{"filter":"datum.s==='GSI'"}],"mark":{"type":"point","filled":false,"color":"black","strokeWidth":1.3,"size":81,"opacity":1,"clip":true},
"encoding":{"x":{"field":"x","type":"quantitative","scale":{"domain":[0,200],"nice":false,"zero":false},"axis":{"orient":"top","values":[0,10,20,30,40,50,60,70,80,90,100,110,120,130,140,150,160,170,180,190,200],"labels":false,"title":null,"tickSize":{"condition":{"test":"datum.value % 50 === 0","value":-8},"value":-4}}},
"y":{"field":"y","type":"quantitative","scale":{"domain":[0,100],"nice":false,"zero":false},"axis":{"orient":"right","values":[0,2,4,6,8,10,12,14,16,18,20,22,24,26,28,30,32,34,36,38,40,42,44,46,48,50,52,54,56,58,60,62,64,66,68,70,72,74,76,78,80,82,84,86,88,90,92,94,96,98,100],"labels":false,"title":null,"tickSize":{"condition":{"test":"datum.value % 20 === 0","value":-8},"value":-4}}},
"shape":{"datum":"GSI data","scale":{"domain":["GSI data","nevtype = 66","nevtype = 6"],"range":["circle","M-1.9,0H1.9","M-1.9,0H-0.8M0.3,0H1.4"]},"legend":{"orient":"none","legendX":55,"legendY":240,"title":null,"padding":0,"labelFontSize":16,"labelOffset":6,"rowPadding":2.3,"symbolSize":81,"symbolStrokeColor":"black","symbolFillColor":"transparent","symbolStrokeWidth":1.3,"symbolOpacity":1}}}},
{"transform":[{"filter":"isValid(datum.lo)"}],"mark":{"type":"rule","color":"black","strokeWidth":1.2,"clip":true},
"encoding":{"x":{"field":"x","type":"quantitative","scale":{"domain":[0,200],"nice":false,"zero":false},"axis":null},
"y":{"field":"lo","type":"quantitative","scale":{"domain":[0,100],"nice":false,"zero":false},"axis":null},"y2":{"field":"hi"}}},
{"data":{"values":[{"x":130.9,"y":89,"t":"p (800 MeV) + Au"}]},"mark":{"type":"text","font":"Liberation Sans","fontSize":29,"align":"center","baseline":"middle","color":"black"},
"encoding":{"x":{"field":"x","type":"quantitative","scale":{"domain":[0,200],"nice":false,"zero":false},"axis":null},"y":{"field":"y","type":"quantitative","scale":{"domain":[0,100],"nice":false,"zero":false},"axis":null},"text":{"field":"t"}}}
]},
{"width":376,"height":308,"data":{"name":"pD"},
"resolve":{"axis":{"x":"independent","y":"independent"}},
"layer":[
{"transform":[{"filter":"datum.s==='66'"}],"mark":{"type":"line","color":"black","strokeWidth":1.5,"clip":true},
"encoding":{"x":{"field":"x","type":"quantitative","scale":{"domain":[0,80],"nice":false,"zero":false},"axis":{"orient":"bottom","values":[0,10,20,30,40,50,60,70,80],"ticks":false,"labelFontSize":27,"labelPadding":5.5,"title":"Charge number \u00a0Z","titleFontSize":32,"titlePadding":4}},
"y":{"field":"y","type":"quantitative","scale":{"domain":[0,100],"nice":false,"zero":false},"axis":{"orient":"left","values":[0,20,40,60,80,100],"ticks":false,"labelFontSize":27,"labelPadding":6,"title":"<Eₖ(Z)> (MeV)","titleFontSize":37,"titlePadding":3}}}},
{"transform":[{"filter":"datum.s==='6'"}],"mark":{"type":"line","color":"black","strokeWidth":1.5,"strokeDash":[5,3],"clip":true},
"encoding":{"x":{"field":"x","type":"quantitative","scale":{"domain":[0,80],"nice":false,"zero":false},"axis":{"orient":"bottom","values":[0,1,2,3,4,5,6,7,8,9,10,11,12,13,14,15,16,17,18,19,20,21,22,23,24,25,26,27,28,29,30,31,32,33,34,35,36,37,38,39,40,41,42,43,44,45,46,47,48,49,50,51,52,53,54,55,56,57,58,59,60,61,62,63,64,65,66,67,68,69,70,71,72,73,74,75,76,77,78,79,80],"labels":false,"title":null,"tickSize":{"condition":{"test":"datum.value % 10 === 0","value":-8},"value":-4}}},
"y":{"field":"y","type":"quantitative","scale":{"domain":[0,100],"nice":false,"zero":false},"axis":{"orient":"left","values":[0,2,4,6,8,10,12,14,16,18,20,22,24,26,28,30,32,34,36,38,40,42,44,46,48,50,52,54,56,58,60,62,64,66,68,70,72,74,76,78,80,82,84,86,88,90,92,94,96,98,100],"labels":false,"title":null,"tickSize":{"condition":{"test":"datum.value % 20 === 0","value":-8},"value":-4}}}}},
{"transform":[{"filter":"datum.s==='GSI'"}],"mark":{"type":"point","filled":false,"color":"black","strokeWidth":1.3,"size":81,"opacity":1,"clip":true},
"encoding":{"x":{"field":"x","type":"quantitative","scale":{"domain":[0,80],"nice":false,"zero":false},"axis":{"orient":"top","values":[0,1,2,3,4,5,6,7,8,9,10,11,12,13,14,15,16,17,18,19,20,21,22,23,24,25,26,27,28,29,30,31,32,33,34,35,36,37,38,39,40,41,42,43,44,45,46,47,48,49,50,51,52,53,54,55,56,57,58,59,60,61,62,63,64,65,66,67,68,69,70,71,72,73,74,75,76,77,78,79,80],"labels":false,"title":null,"tickSize":{"condition":{"test":"datum.value % 10 === 0","value":-8},"value":-4}}},
"y":{"field":"y","type":"quantitative","scale":{"domain":[0,100],"nice":false,"zero":false},"axis":{"orient":"right","values":[0,2,4,6,8,10,12,14,16,18,20,22,24,26,28,30,32,34,36,38,40,42,44,46,48,50,52,54,56,58,60,62,64,66,68,70,72,74,76,78,80,82,84,86,88,90,92,94,96,98,100],"labels":false,"title":null,"tickSize":{"condition":{"test":"datum.value % 20 === 0","value":-8},"value":-4}}},
"shape":{"datum":"GSI data","scale":{"domain":["GSI data","nevtype = 66","nevtype = 6"],"range":["circle","M-1.9,0H1.9","M-1.9,0H-0.8M0.3,0H1.4"]},"legend":{"orient":"none","legendX":95,"legendY":239,"title":null,"padding":0,"labelFontSize":16,"labelOffset":6,"rowPadding":0.8,"symbolSize":81,"symbolStrokeColor":"black","symbolFillColor":"transparent","symbolStrokeWidth":1.3,"symbolOpacity":1}}}},
{"transform":[{"filter":"isValid(datum.lo)"}],"mark":{"type":"rule","color":"black","strokeWidth":1.2,"clip":true},
"encoding":{"x":{"field":"x","type":"quantitative","scale":{"domain":[0,80],"nice":false,"zero":false},"axis":null},
"y":{"field":"lo","type":"quantitative","scale":{"domain":[0,100],"nice":false,"zero":false},"axis":null},"y2":{"field":"hi"}}},
{"data":{"values":[{"x":52.3,"y":89.5,"t":"p (800 MeV) + Au"}]},"mark":{"type":"text","font":"Liberation Sans","fontSize":29,"align":"center","baseline":"middle","color":"black"},
"encoding":{"x":{"field":"x","type":"quantitative","scale":{"domain":[0,80],"nice":false,"zero":false},"axis":null},"y":{"field":"y","type":"quantitative","scale":{"domain":[0,100],"nice":false,"zero":false},"axis":null},"text":{"field":"t"}}}
]}
],"spacing":138,"bounds":"flush","resolve":{"scale":{"shape":"independent"},"legend":{"shape":"independent"}}}
]},
{"hconcat":[
{"width":1,"height":1,"view":{"stroke":null},"data":{"values":[{}]},"mark":{"type":"text"},"encoding":{"text":{"value":""}}},
{"width":710,"height":353,"data":{"name":"pE"},
"resolve":{"axis":{"x":"independent","y":"independent"}},
"layer":[
{"transform":[{"filter":"datum.s==='66'"}],"mark":{"type":"line","color":"black","strokeWidth":1.8,"clip":true},
"encoding":{"x":{"field":"x","type":"quantitative","scale":{"domain":[40,200],"nice":false,"zero":false},"axis":{"orient":"bottom","values":[40,60,80,100,120,140,160,180,200],"ticks":false,"labelFontSize":35,"labelPadding":14,"title":"Mass number \u00a0A","titleFontSize":45,"titlePadding":7}},
"y":{"field":"y","type":"quantitative","scale":{"type":"log","domain":[0.001,100],"nice":false},"axis":{"orient":"left","values":[0.001,0.01,0.1,1,10,100],"labelExpr":"'10'","ticks":false,"labelFontSize":35,"labelPadding":48,"title":"Cross Section (mb)","titleFontSize":44,"titlePadding":23}},
"detail":{"field":"z"}}},
{"transform":[{"filter":"datum.s==='6'"}],"mark":{"type":"line","color":"black","strokeWidth":1.8,"strokeDash":[6,4],"clip":true},
"encoding":{"x":{"field":"x","type":"quantitative","scale":{"domain":[40,200],"nice":false,"zero":false},"axis":{"orient":"bottom","values":[40,42,44,46,48,50,52,54,56,58,60,62,64,66,68,70,72,74,76,78,80,82,84,86,88,90,92,94,96,98,100,102,104,106,108,110,112,114,116,118,120,122,124,126,128,130,132,134,136,138,140,142,144,146,148,150,152,154,156,158,160,162,164,166,168,170,172,174,176,178,180,182,184,186,188,190,192,194,196,198,200],"labels":false,"title":null,"tickSize":{"condition":{"test":"datum.value % 20 === 0","value":-12},"value":-6}}},
"y":{"field":"y","type":"quantitative","scale":{"type":"log","domain":[0.001,100],"nice":false},"axis":{"orient":"left","values":[0.001,0.01,0.1,1,10,100],"labelExpr":"['−3','−2','−1','0','1','2'][round(log(datum.value)/LN10)+3]","labelAlign":"left","ticks":false,"labelFontSize":23,"labelPadding":48,"labelOffset":-17,"title":null}},
"detail":{"field":"z"}}},
{"transform":[{"filter":"datum.s==='GSI' && datum.z % 10 === 0"}],"mark":{"type":"point","filled":false,"color":"black","strokeWidth":1.6,"size":177,"opacity":1,"clip":true},
"encoding":{"x":{"field":"x","type":"quantitative","scale":{"domain":[40,200],"nice":false,"zero":false},"axis":{"orient":"top","values":[40,42,44,46,48,50,52,54,56,58,60,62,64,66,68,70,72,74,76,78,80,82,84,86,88,90,92,94,96,98,100,102,104,106,108,110,112,114,116,118,120,122,124,126,128,130,132,134,136,138,140,142,144,146,148,150,152,154,156,158,160,162,164,166,168,170,172,174,176,178,180,182,184,186,188,190,192,194,196,198,200],"labels":false,"title":null,"tickSize":{"condition":{"test":"datum.value % 20 === 0","value":-12},"value":-6}}},
"y":{"field":"y","type":"quantitative","scale":{"type":"log","domain":[0.001,100],"nice":false},"axis":{"orient":"left","values":[0.001,0.002,0.003,0.004,0.005,0.006,0.007,0.008,0.009,0.01,0.02,0.03,0.04,0.05,0.06,0.07,0.08,0.09,0.1,0.2,0.3,0.4,0.5,0.6,0.7,0.8,0.9,1,2,3,4,5,6,7,8,9,10,20,30,40,50,60,70,80,90,100],"labels":false,"title":null,"tickSize":{"condition":{"test":"abs(log(datum.value)/LN10-round(log(datum.value)/LN10))<0.01","value":-12},"value":-6}}},
"shape":{"datum":"GSI data","scale":{"domain":["GSI data","nevtype = 66","nevtype = 6"],"range":["circle","M-1.4,0H1.4","M-1.4,0H-0.2M0.6,0H1.4"]},"legend":{"orient":"none","legendX":312,"legendY":56,"title":null,"padding":0,"labelFontSize":18.5,"labelOffset":13.5,"rowPadding":2,"symbolSize":169,"symbolStrokeColor":"black","symbolFillColor":"transparent","symbolStrokeWidth":1.6,"symbolOpacity":1}}}},
{"transform":[{"filter":"datum.s==='GSI' && datum.z % 10 === 5"}],"mark":{"type":"point","shape":"square","filled":false,"color":"black","strokeWidth":1.6,"size":144,"opacity":1,"clip":true},
"encoding":{"x":{"field":"x","type":"quantitative","scale":{"domain":[40,200],"nice":false,"zero":false},"axis":null},
"y":{"field":"y","type":"quantitative","scale":{"type":"log","domain":[0.001,100],"nice":false},"axis":{"orient":"right","values":[0.001,0.002,0.003,0.004,0.005,0.006,0.007,0.008,0.009,0.01,0.02,0.03,0.04,0.05,0.06,0.07,0.08,0.09,0.1,0.2,0.3,0.4,0.5,0.6,0.7,0.8,0.9,1,2,3,4,5,6,7,8,9,10,20,30,40,50,60,70,80,90,100],"labels":false,"title":null,"tickSize":{"condition":{"test":"abs(log(datum.value)/LN10-round(log(datum.value)/LN10))<0.01","value":-12},"value":-6}}}}},
{"transform":[{"filter":"isValid(datum.lo)"}],"mark":{"type":"rule","color":"black","strokeWidth":1.4,"clip":true},
"encoding":{"x":{"field":"x","type":"quantitative","scale":{"domain":[40,200],"nice":false,"zero":false},"axis":null},
"y":{"field":"lo","type":"quantitative","scale":{"type":"log","domain":[0.001,100],"nice":false},"axis":null},"y2":{"field":"hi"}}},
{"data":{"name":"zlab"},"mark":{"type":"text","font":"Liberation Sans","fontSize":28,"align":"center","baseline":"middle","color":"black"},
"encoding":{"x":{"field":"x","type":"quantitative","scale":{"domain":[40,200],"nice":false,"zero":false},"axis":null},"y":{"field":"y","type":"quantitative","scale":{"type":"log","domain":[0.001,100],"nice":false},"axis":null},"text":{"field":"t"}}},
{"data":{"values":[{"x":95.8,"y":36.7,"t":"p (800 MeV) + Au"}]},"mark":{"type":"text","font":"Liberation Sans","fontSize":34,"align":"center","baseline":"middle","color":"black"},
"encoding":{"x":{"field":"x","type":"quantitative","scale":{"domain":[40,200],"nice":false,"zero":false},"axis":null},"y":{"field":"y","type":"quantitative","scale":{"type":"log","domain":[0.001,100],"nice":false},"axis":null},"text":{"field":"t"}}}
]}
],"spacing":110,"bounds":"flush","resolve":{"scale":{"shape":"independent"},"legend":{"shape":"independent"}}}
]
}
